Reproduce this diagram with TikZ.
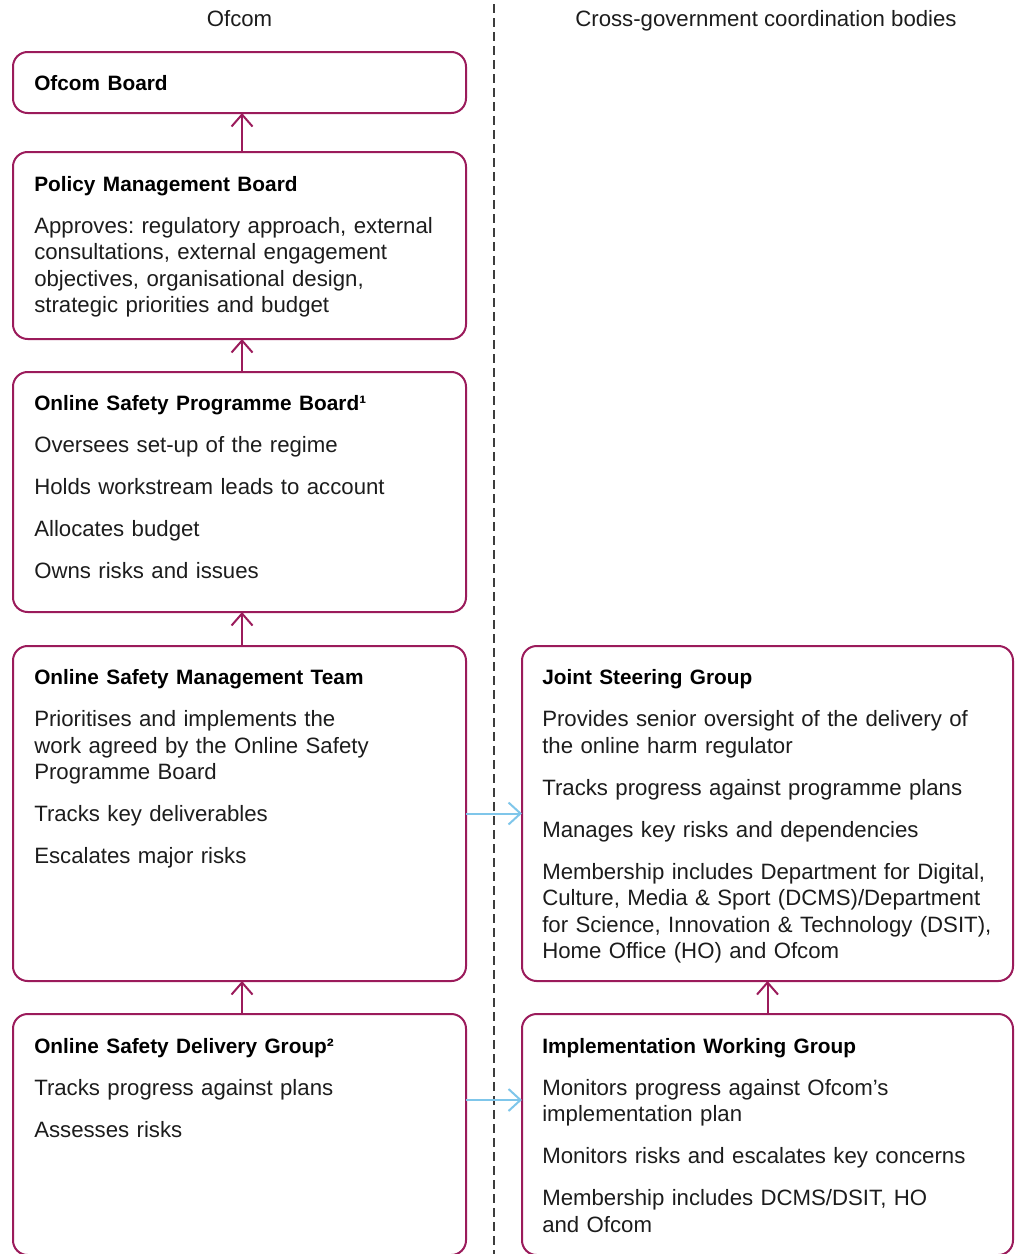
\documentclass[tikz,border=0pt]{standalone}
\usepackage{fontspec}
\setmainfont{Liberation Sans}
\usetikzlibrary{arrows.meta,positioning,calc}
\definecolor{plum}{RGB}{155,27,91}
\definecolor{sky}{RGB}{127,198,234}
\definecolor{ink}{RGB}{28,28,28}
\definecolor{dashgrey}{RGB}{60,60,60}
\newcommand\boxhead[1]{{\fontsize{15.6}{19.9}\selectfont\bfseries\color{black}#1}}
\frenchspacing

\begin{document}
\begin{tikzpicture}[x=0.75pt,y=0.75pt]
\tikzset{panel/.style={draw=plum,line width=1.5pt,rounded corners=11pt,outer sep=0pt,inner sep=0pt},
  lpanel/.style={panel,minimum width=339.75pt},
  rpanel/.style={panel,minimum width=368.25pt},
  blurb/.style={anchor=north west,inner sep=0pt,align=left,text width=345pt,font=\fontsize{16.65}{19.9}\selectfont,text=ink},
  head/.style={anchor=base,inner sep=0pt,font=\fontsize{16.65}{19.9}\selectfont,text=ink},
  up/.style={draw=plum,line width=1.5pt,-{Straight Barb[length=9pt,width=15.75pt]}},
  over/.style={draw=sky,line width=1.5pt,-{Straight Barb[length=9pt,width=16.5pt]}},
  divider/.style={draw=dashgrey,line width=1.1pt,dash pattern=on 6.75pt off 3.75pt}}
\useasboundingbox (0,0) rectangle (1015,-1254);
\clip (0,0) rectangle (1015,-1254);
\node[head] (lefthead) at (239.5,-26) {Ofcom};
\node[head] (righthead) at (766,-26) {Cross-government coordination bodies};
\draw[divider] (494,-4) -- (494,-1260);
\node[lpanel,minimum height=45.75pt] (board) at (239.5,-82.5) {};
\node[lpanel,minimum height=140.25pt,below=29.25pt of board] (pmb) {};
\node[lpanel,minimum height=180pt,below=24.75pt of pmb] (ospb) {};
\node[lpanel,minimum height=251.25pt,below=25.5pt of ospb] (osmt) {};
\node[lpanel,minimum height=180.75pt,below=24.75pt of osmt] (osdg) {};
\node[rpanel,minimum height=251.25pt,right=42pt of osmt] (jsg) {};
\node[rpanel,minimum height=180.75pt,below=24.75pt of jsg] (iwg) {};
\node[blurb] (boardtxt) at ([shift={(15.75pt,-17.6pt)}]board.north west) {\boxhead{Ofcom Board}};
\node[blurb] (pmbtxt) at ([shift={(15.75pt,-18pt)}]pmb.north west) {\boxhead{Policy Management Board}\\[11.6pt]
  Approves: regulatory approach, external\\ consultations, external engagement\\ objectives, organisational design,\\ strategic priorities and budget};
\node[blurb] (ospbtxt) at ([shift={(15.75pt,-17.6pt)}]ospb.north west) {\boxhead{Online Safety Programme Board¹}\\[11.6pt]
  Oversees set-up of the regime\\[11.6pt] Holds workstream leads to account\\[11.6pt] Allocates budget\\[11.6pt] Owns risks and issues};
\node[blurb] (osmttxt) at ([shift={(15.75pt,-17.6pt)}]osmt.north west) {\boxhead{Online Safety Management Team}\\[11.6pt]
  Prioritises and implements the\\ work agreed by the Online Safety\\ Programme Board\\[11.6pt] Tracks key deliverables\\[11.6pt] Escalates major risks};
\node[blurb] (osdgtxt) at ([shift={(15.75pt,-18pt)}]osdg.north west) {\boxhead{Online Safety Delivery Group²}\\[11.6pt]
  Tracks progress against plans\\[11.6pt] Assesses risks};
\node[blurb] (jsgtxt) at ([shift={(15pt,-17.6pt)}]jsg.north west) {\boxhead{Joint Steering Group}\\[11.6pt]
  Provides senior oversight of the delivery of\\ the online harm regulator\\[11.6pt] Tracks progress against programme plans\\[11.6pt]
  Manages key risks and dependencies\\[11.6pt] Membership includes Department for Digital,\\ Culture, Media \& Sport (DCMS)/Department\\
  for Science, Innovation \& Technology (DSIT),\\ Home Office (HO) and Ofcom};
\node[blurb] (iwgtxt) at ([shift={(15pt,-18pt)}]iwg.north west) {\boxhead{Implementation Working Group}\\[11.6pt]
  Monitors progress against Ofcom’s\\ implementation plan\\[11.6pt] Monitors risks and escalates key concerns\\[11.6pt]
  Membership includes DCMS/DSIT, HO\\ and Ofcom};
\coordinate (handoff) at ([yshift=-64.5pt]osdg.north east);
\draw[up] ([xshift=1.9pt]pmb.north)--([xshift=1.9pt]board.south); \draw[up] ([xshift=1.9pt]ospb.north)--([xshift=1.9pt]pmb.south);
\draw[up] ([xshift=1.9pt]osmt.north)--([xshift=1.9pt]ospb.south); \draw[up] ([xshift=1.9pt]osdg.north)--([xshift=1.9pt]osmt.south);
\draw[up] (iwg)--(jsg);
\draw[over] (osmt)--(jsg); \draw[over] (handoff)--(handoff -| iwg.west);
\end{tikzpicture}
\end{document}
